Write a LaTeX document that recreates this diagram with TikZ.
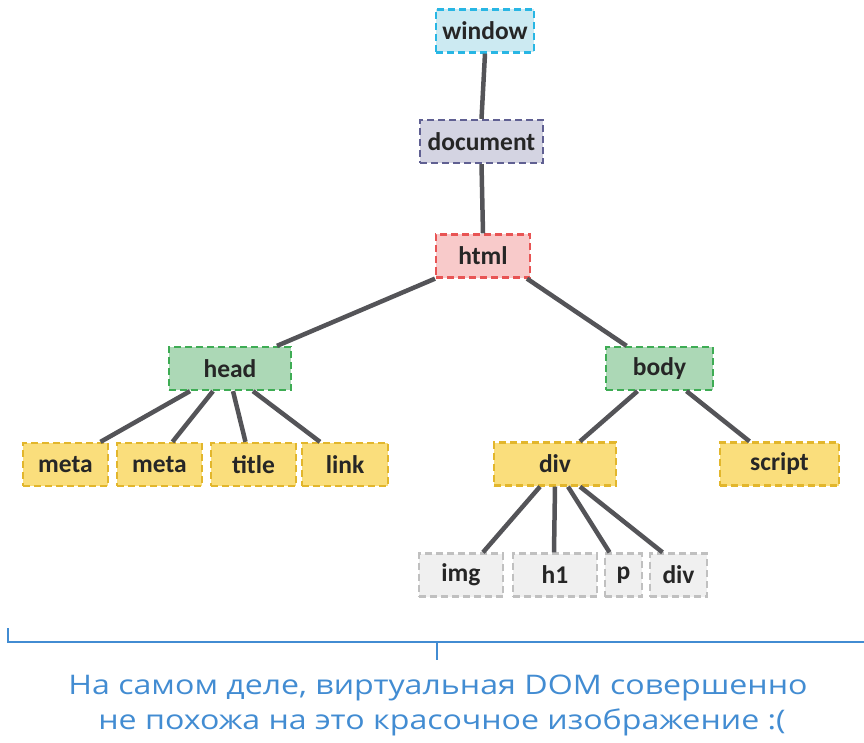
\documentclass[tikz,border=0pt]{standalone}
\usepackage{fontspec}
\setmainfont{Carlito}
\newfontfamily\notefont{Open Sans}
\definecolor{edge}{RGB}{84,84,88}
\definecolor{winfill}{RGB}{204,234,242}
\definecolor{windraw}{RGB}{40,182,228}
\definecolor{docfill}{RGB}{212,212,226}
\definecolor{docdraw}{RGB}{96,96,146}
\definecolor{htmlfill}{RGB}{248,202,202}
\definecolor{htmldraw}{RGB}{232,84,84}
\definecolor{secfill}{RGB}{172,216,182}
\definecolor{secdraw}{RGB}{62,172,84}
\definecolor{leaffill}{RGB}{250,222,124}
\definecolor{leafdraw}{RGB}{226,182,44}
\definecolor{greyfill}{RGB}{240,240,240}
\definecolor{greydraw}{RGB}{192,192,192}
\definecolor{notecol}{RGB}{66,140,210}
\tikzset{
  box/.style={rectangle, inner sep=0pt, minimum height=43pt, line width=2.3pt,
    dash pattern=on 7pt off 4pt, text=black!85,
    font=\fontsize{25.5}{28}\selectfont\bfseries},
  winbox/.style={box, fill=winfill, draw=windraw},
  docbox/.style={box, fill=docfill, draw=docdraw},
  htmlbox/.style={box, fill=htmlfill, draw=htmldraw},
  secbox/.style={box, fill=secfill, draw=secdraw},
  leafbox/.style={box, fill=leaffill, draw=leafdraw},
  greybox/.style={box, fill=greyfill, draw=greydraw},
  link/.style={draw=edge, line width=4.5pt},
  brace/.style={draw=notecol, line width=2.5pt},
  note/.style={text=notecol, font=\notefont\fontsize{27}{28}\selectfont,
    anchor=base, inner sep=0pt},
}
\begin{document}
\begin{tikzpicture}[x=1pt, y=-1pt]
\useasboundingbox (0,0) rectangle (864,743);

% DOM tree boxes
\node[winbox,  minimum width=98pt]  (window)   at (485,31)    {window};
\node[docbox,  minimum width=123pt] (document) at (481.5,141.5) {document};
\node[htmlbox, minimum width=94pt]  (html)     at (483,256)   {html};
\node[secbox,  minimum width=122pt] (head)     at (230,368.5) {head};
\node[secbox,  minimum width=107pt] (body)     at (659.5,368.5) {body};
\node[leafbox, minimum width=85pt]  (meta1)    at (65.5,464.5)  {meta};
\node[leafbox, minimum width=85pt]  (meta2)    at (159.5,464.5) {meta};
\node[leafbox, minimum width=85pt]  (title)    at (253.5,464.5) {title};
\node[leafbox, minimum width=86pt]  (linkn)    at (345,464.5)   {link};
\node[leafbox, minimum width=122pt] (div)      at (555,464)     {div};
\node[leafbox, minimum width=119pt] (script)   at (779.5,464)   {script};
\node[greybox, minimum width=84pt]  (img)      at (461,575)     {img};
\node[greybox, minimum width=84pt]  (h1)       at (555,575)     {h1};
\node[greybox, minimum width=37pt]  (p)        at (623.5,575)   {p};
\node[greybox, minimum width=57pt]  (div2)     at (678.5,575)   {div};

% tree edges
\draw[link] (window.south) -- (document.north);
\draw[link] (document.south) -- (html.north);
\draw[link] ([xshift=-48pt]html.south) -- ([xshift=47pt]head.north);
\draw[link] ([xshift=44pt]html.south) -- ([xshift=-33pt]body.north);
\draw[link] ([xshift=-40pt]head.south) -- ([xshift=35pt]meta1.north);
\draw[link] ([xshift=-17pt]head.south) -- ([xshift=13pt]meta2.north);
\draw[link] ([xshift=3pt]head.south) -- ([xshift=-8pt]title.north);
\draw[link] ([xshift=23pt]head.south) -- ([xshift=-25pt]linkn.north);
\draw[link] ([xshift=-22pt]body.south) -- ([xshift=25pt]div.north);
\draw[link] ([xshift=27pt]body.south) -- ([xshift=-30pt]script.north);
\draw[link] ([xshift=-15pt]div.south) -- ([xshift=22pt]img.north);
\draw[link] ([xshift=0pt]div.south) -- ([xshift=-1pt]h1.north);
\draw[link] ([xshift=13pt]div.south) -- ([xshift=-14pt]p.north);
\draw[link] ([xshift=25pt]div.south) -- ([xshift=-16pt]div2.north);

% bracket under the tree and the note
\coordinate (bl) at (8,628);
\coordinate (bc) at (437,642);
\coordinate (br) at (864,642);
\coordinate (bt) at (437,660);
\draw[brace] (bl) |- (br);
\draw[brace] (bc) -- (bt);
\node[note] (note1) at (438,694)
  {\scalebox{1.19}[1]{На самом деле, виртуальная DOM совершенно}};
\node[note] (note2) at (442,729)
  {\scalebox{1.19}[1]{не похожа на это красочное изображение :(}};
\end{tikzpicture}
\end{document}
